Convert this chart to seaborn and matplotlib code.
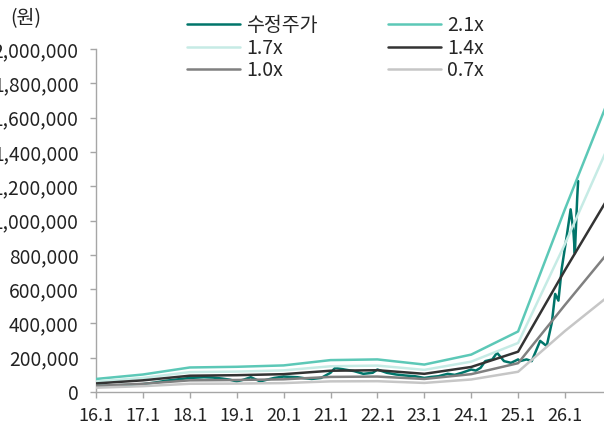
import matplotlib
matplotlib.use("Agg")
import numpy as np
import pandas as pd
import matplotlib.pyplot as plt
from matplotlib.ticker import FuncFormatter
import seaborn as sns

# ─── 데이터 (원) ────────────────────────────────────────────────────────────
band_years = [2016, 2017, 2018, 2019, 2020, 2021, 2022, 2023, 2024, 2025, 2026, 2027]
band_21x = [76000, 102000, 143000, 147000, 155000, 186000, 190000, 160000, 218000, 353000, 1067000, 1754000]
band_17x = [61000, 82000, 116000, 119000, 126000, 150000, 154000, 129000, 177000, 286000, 864000, 1480000]
band_14x = [50000, 68000, 95000, 98000, 104000, 124000, 127000, 106000, 146000, 235000, 711000, 1169000]
band_10x = [36000, 48000, 68000, 70000, 74000, 88000, 90000, 76000, 104000, 168000, 508000, 840000]
band_07x = [25000, 34000, 48000, 49000, 52000, 62000, 63000, 53000, 73000, 118000, 356000, 575000]

price_t = [2016.0, 2016.25, 2016.5, 2016.75, 2017.0, 2017.25, 2017.5, 2017.75,
           2018.0, 2018.3, 2018.5, 2018.7, 2018.85, 2019.0, 2019.15, 2019.3,
           2019.5, 2019.65, 2019.8, 2020.0, 2020.3, 2020.45, 2020.6, 2020.8,
           2021.0, 2021.1, 2021.3, 2021.5, 2021.7, 2021.9, 2022.0, 2022.2,
           2022.4, 2022.6, 2022.8, 2023.0, 2023.15, 2023.3, 2023.5, 2023.65,
           2023.8, 2024.0, 2024.1, 2024.2, 2024.3, 2024.45, 2024.55, 2024.7,
           2024.85, 2025.0, 2025.04, 2025.18, 2025.29, 2025.47, 2025.61, 2025.72,
           2025.79, 2025.86, 2025.93, 2026.04, 2026.12, 2026.18, 2026.21, 2026.26,
           2026.28]
price = [38000, 36000, 40000, 42000, 46000, 55000, 66000, 74000,
         82000, 86000, 84000, 78000, 72000, 62000, 72000, 86000,
         62000, 72000, 82000, 90000, 86000, 80000, 76000, 82000,
         112000, 141000, 131000, 122000, 106000, 112000, 131000, 112000,
         102000, 96000, 92000, 82000, 88000, 92000, 106000, 100000,
         112000, 131000, 125000, 141000, 180000, 190000, 229000, 180000,
         170000, 190000, 180000, 190000, 180000, 298000, 268000, 406000,
         572000, 533000, 719000, 915000, 1065000, 935000, 808000, 1131000,
         1230000]

band_names = ["2.1x", "1.7x", "1.4x", "1.0x", "0.7x"]
band_values = [band_21x, band_17x, band_14x, band_10x, band_07x]
xtick_pos = list(range(2016, 2027))
xtick_labels = ["16.1", "17.1", "18.1", "19.1", "20.1", "21.1",
                "22.1", "23.1", "24.1", "25.1", "26.1"]
yticks = list(range(0, 2000001, 200000))

# ─── Style ───────────────────────────────────────────────────────────────────
PRICE_COLOR = "#00756a"
BAND_COLORS = {
    "2.1x": "#5cc8b7",
    "1.7x": "#c6ebe5",
    "1.4x": "#333333",
    "1.0x": "#808080",
    "0.7x": "#c6c6c6",
}
AXIS_COLOR = "#a6a6a6"
TEXT_COLOR = "#222222"

sns.set_style("ticks")
plt.rcParams["font.family"] = ["Noto Sans CJK KR", "DejaVu Sans"]

bands = pd.DataFrame({
    "t": np.tile(band_years, len(band_names)),
    "value": np.concatenate(band_values),
    "band": np.repeat(band_names, len(band_years)),
})
stock = pd.DataFrame({"t": price_t, "value": price})

fig = plt.figure(figsize=(6.04, 4.25), dpi=100)
ax = fig.add_axes([96 / 604, 33 / 425, 508 / 604, 343 / 425])

sns.lineplot(data=stock, x="t", y="value", color=PRICE_COLOR, lw=1.8,
             ax=ax, estimator=None, sort=False, label="수정주가", zorder=2)
sns.lineplot(data=bands, x="t", y="value", hue="band", hue_order=band_names,
             palette=BAND_COLORS, lw=1.8, ax=ax, estimator=None, zorder=3)

ax.set_xlim(2016, 2016 + 508 / 46.9)
ax.set_ylim(0, 2000000)
ax.set_xticks(xtick_pos)
ax.set_xticklabels(xtick_labels)
ax.set_yticks(yticks)
ax.yaxis.set_major_formatter(FuncFormatter(lambda v, _: f"{v:,.0f}"))
ax.set_xlabel("")
ax.set_ylabel("")

sns.despine(ax=ax)
for side in ("left", "bottom"):
    ax.spines[side].set_color(AXIS_COLOR)
    ax.spines[side].set_linewidth(1.0)
ax.tick_params(axis="both", colors=AXIS_COLOR, labelcolor=TEXT_COLOR,
               length=4.5, width=1.0)
ax.tick_params(axis="y", pad=8, labelsize=13.8)
ax.tick_params(axis="x", pad=6, labelsize=13)

# 범례: 행 순서대로 2열 배치
handles, labels = ax.get_legend_handles_labels()
lookup = dict(zip(labels, handles))
order = ["수정주가", "1.7x", "1.0x", "2.1x", "1.4x", "0.7x"]
ax.legend([lookup[k] for k in order], order, ncol=2, frameon=False,
          loc="upper left", bbox_to_anchor=(187 / 604, 1 - 15 / 425),
          bbox_transform=fig.transFigure, borderpad=0, borderaxespad=0,
          fontsize=14, handlelength=2.75, handletextpad=0.3,
          columnspacing=3.6, labelspacing=0.08)

fig.text(10 / 604, 1 - 19 / 425, "(원)", fontsize=14, color=TEXT_COLOR,
         ha="left", va="center")

fig.savefig("out.png", dpi=100)
